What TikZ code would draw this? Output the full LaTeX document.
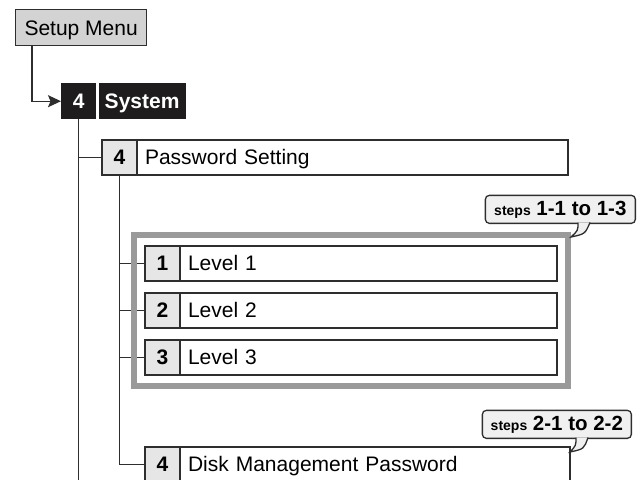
\documentclass[tikz,border=0pt]{standalone}
\usepackage{fontspec}
\setmainfont{Liberation Sans}
\usepackage{xcolor}
\usepackage{tikz}
\usetikzlibrary{arrows.meta, positioning, fit}

\definecolor{linegray}{HTML}{2E2E2E}
\definecolor{menugray}{HTML}{D3D3D3}
\definecolor{numgray}{HTML}{E6E6E7}
\definecolor{framegray}{HTML}{9A9A9A}
\definecolor{notegray}{HTML}{F0F0F0}
\definecolor{boxblack}{HTML}{1E1C1D}

\begin{document}
\begin{tikzpicture}[
    x=1pt, y=-1pt,
    every node/.style={font=\fontsize{21}{24}\selectfont},
    menubox/.style={rectangle, draw=linegray, fill=menugray, line width=1.3pt, minimum width=131pt, minimum height=36pt, inner sep=0pt, text height=15pt, text depth=0pt},
    blackbox/.style={rectangle, fill=boxblack, text=white, minimum height=36pt, inner sep=0pt, text height=15pt, text depth=0pt, font=\fontsize{21}{24}\selectfont\bfseries},
    numbox/.style={rectangle, draw=linegray, fill=numgray, line width=1.3pt, outer sep=0pt, minimum width=35pt, minimum height=35pt, inner sep=0pt, font=\fontsize{21}{24}\selectfont\bfseries},
    itembox/.style={rectangle, draw=linegray, fill=white, line width=1.3pt, outer sep=0pt, minimum height=35pt, inner xsep=8pt, inner ysep=0pt, text width=#1, text height=15pt, text depth=1pt, align=left},
    framebox/.style={rectangle, draw=framegray, line width=6pt, inner sep=11pt},
    stepbox/.style={rectangle, draw=linegray, fill=notegray, line width=1.3pt, rounded corners=4pt, minimum height=28pt, inner xsep=5pt, inner ysep=0pt, font=\fontsize{20.5}{23}\selectfont\bfseries},
    tail/.style={draw=linegray, fill=notegray, line width=1.3pt},
    link/.style={draw=linegray, line width=1.3pt},
    arrow/.style={link, -{Stealth[length=13pt, width=12pt, inset=2.5pt]}},
]
\useasboundingbox (0,0) rectangle (644,479);
\clip (0,0) rectangle (644,479);

\node[menubox, anchor=north west] (menu) at (15,9) {Setup Menu};
\node[blackbox, minimum width=35pt, anchor=north west] (sysnum) at (61,83) {4};
\node[blackbox, minimum width=87pt, right=2pt of sysnum] (system) {System};

\node[numbox, anchor=north west] (pwnum) at (102,140) {4};
\node[itembox=415pt, right=0pt of pwnum] (pw) {Password Setting};

\node[numbox, anchor=north west] (lvnum1) at (145,246) {1};
\node[itembox=361pt, right=0pt of lvnum1] (lv1) {Level 1};
\node[numbox, below=12pt of lvnum1] (lvnum2) {2};
\node[itembox=361pt, right=0pt of lvnum2] (lv2) {Level 2};
\node[numbox, below=12pt of lvnum2] (lvnum3) {3};
\node[itembox=361pt, right=0pt of lvnum3] (lv3) {Level 3};

\node[numbox, anchor=north west] (disknum) at (145,447) {4};
\node[itembox=374pt, right=0pt of disknum] (disk) {Disk Management Password};
\coordinate (bottom) at (0,482);

\draw[arrow] ([xshift=17pt]menu.south west) |- (sysnum.west);
\draw[link] (sysnum.south) -- (sysnum.south |- bottom);
\draw[link] (pwnum.west) -- (pwnum.west -| sysnum.south);
\draw[link] (pwnum.south) |- (disknum.west);
\foreach \i in {1,2,3}
    \draw[link] (lvnum\i.west) -- (lvnum\i.west -| pwnum.south);

\node[framebox, fit=(lvnum1)(lv3)] (levels) {};

\node[stepbox, anchor=south east, minimum width=150pt] (note1) at (636,224) {{\fontsize{14}{16}\selectfont steps} 1-1 to 1-3};
\node[stepbox, anchor=south east, minimum width=149pt] (note2) at (632,439) {{\fontsize{14}{16}\selectfont steps} 2-1 to 2-2};
\filldraw[tail] ([xshift=-58pt,yshift=1.5pt]note1.south east) .. controls +(0,8) .. ([yshift=-5pt]levels.north east) .. controls +(14,-3) .. ([xshift=-46pt,yshift=1.5pt]note1.south east);
\filldraw[tail] ([xshift=-56pt,yshift=1.5pt]note2.south east) .. controls +(0,8) .. ([yshift=-5pt]disk.north east) .. controls +(14,-3) .. ([xshift=-44pt,yshift=1.5pt]note2.south east);
\end{tikzpicture}
\end{document}
